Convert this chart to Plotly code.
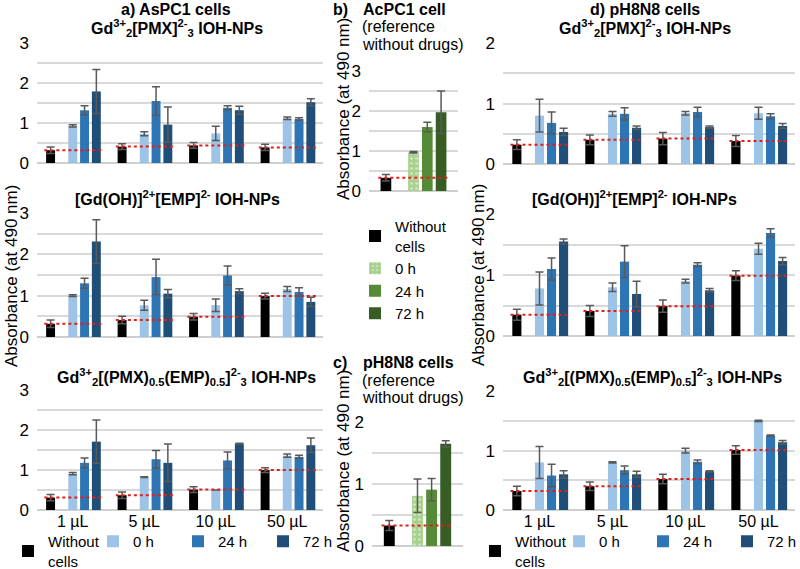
import plotly.graph_objects as go

W, H = 800, 569

doses = ["1 µL", "5 µL", "10 µL", "50 µL"]
single = [""]
series = ["Without<br>cells", "0 h", "24 h", "72 h"]

# ---- a) AsPC1 cells ----
# Gd3+2[PMX]2-3 IOH-NPs
a1_blank = [0.32, 0.41, 0.44, 0.39]
a1_0h = [0.93, 0.73, 0.74, 1.12]
a1_24h = [1.32, 1.55, 1.38, 1.10]
a1_72h = [1.79, 0.96, 1.32, 1.52]
a1_blank_err = [0.08, 0.07, 0.07, 0.08]
a1_0h_err = [0.03, 0.05, 0.18, 0.03]
a1_24h_err = [0.11, 0.36, 0.05, 0.03]
a1_72h_err = [0.55, 0.44, 0.10, 0.09]

# [Gd(OH)]2+[EMP]2- IOH-NPs
a2_blank = [0.32, 0.41, 0.49, 0.99]
a2_0h = [1.00, 0.77, 0.77, 1.16]
a2_24h = [1.30, 1.45, 1.49, 1.09]
a2_72h = [2.31, 1.05, 1.11, 0.85]
a2_blank_err = [0.09, 0.09, 0.08, 0.07]
a2_0h_err = [0.02, 0.12, 0.15, 0.06]
a2_24h_err = [0.12, 0.43, 0.23, 0.10]
a2_72h_err = [0.53, 0.10, 0.06, 0.11]

# Gd3+2[(PMX)0.5(EMP)0.5]2-3 IOH-NPs
a3_blank = [0.31, 0.37, 0.51, 1.00]
a3_0h = [0.91, 0.82, 0.50, 1.36]
a3_24h = [1.18, 1.27, 1.24, 1.33]
a3_72h = [1.71, 1.18, 1.66, 1.62]
a3_blank_err = [0.08, 0.08, 0.07, 0.06]
a3_0h_err = [0.03, 0.01, 0.0, 0.04]
a3_24h_err = [0.12, 0.22, 0.21, 0.04]
a3_72h_err = [0.54, 0.47, 0.01, 0.18]

# ---- b) AcPC1 cell (reference without drugs) ----
b_blank = [0.33]
b_0h = [0.97]
b_24h = [1.60]
b_72h = [1.97]
b_blank_err = [0.08]
b_0h_err = [0.02]
b_24h_err = [0.12]
b_72h_err = [0.53]

# ---- c) pH8N8 cells (reference without drugs) ----
c_blank = [0.33]
c_0h = [0.81]
c_24h = [0.91]
c_72h = [1.65]
c_blank_err = [0.08]
c_0h_err = [0.27]
c_24h_err = [0.18]
c_72h_err = [0.05]

# ---- d) pH8N8 cells ----
d1_blank = [0.32, 0.40, 0.42, 0.38]
d1_0h = [0.80, 0.83, 0.84, 0.84]
d1_24h = [0.68, 0.83, 0.86, 0.79]
d1_72h = [0.53, 0.60, 0.61, 0.63]
d1_blank_err = [0.08, 0.08, 0.10, 0.09]
d1_0h_err = [0.27, 0.04, 0.03, 0.10]
d1_24h_err = [0.18, 0.10, 0.08, 0.04]
d1_72h_err = [0.06, 0.03, 0.02, 0.04]

d2_blank = [0.35, 0.41, 0.49, 0.99]
d2_0h = [0.78, 0.80, 0.90, 1.43]
d2_24h = [1.10, 1.22, 1.17, 1.69]
d2_72h = [1.55, 0.69, 0.75, 1.23]
d2_blank_err = [0.09, 0.09, 0.10, 0.08]
d2_0h_err = [0.27, 0.07, 0.03, 0.09]
d2_24h_err = [0.18, 0.26, 0.03, 0.07]
d2_72h_err = [0.04, 0.21, 0.03, 0.06]

d3_blank = [0.32, 0.40, 0.52, 1.01]
d3_0h = [0.80, 0.80, 1.00, 1.50]
d3_24h = [0.58, 0.67, 0.81, 1.25]
d3_72h = [0.60, 0.60, 0.65, 1.14]
d3_blank_err = [0.08, 0.07, 0.08, 0.07]
d3_0h_err = [0.27, 0.01, 0.04, 0.01]
d3_24h_err = [0.19, 0.07, 0.03, 0.01]
d3_72h_err = [0.06, 0.05, 0.01, 0.03]

# ---------------- styling ----------------
FONT = "Arial, 'Liberation Sans', sans-serif"
BLUES = ["#000000", "#9DC3E6", "#2E75B6", "#1F4E79"]
GREENS = ["#000000", "#A9D18E", "#558A36", "#385D24"]
GRID = "#D9D9D9"
ERR = "#595959"
RED = "#E0201B"
OFF_WIDE = [-0.31, 0.0, 0.165, 0.33]
OFF_NARROW = [-0.31, 0.0, 0.155, 0.31]

fig = go.Figure()


def add_panel(n, cats, vals, errs, colors, offsets, width, legend=None, dotted=False):
    xa, ya = f"x{n}", f"y{n}"
    idx = list(range(len(cats)))
    for j in range(4):
        marker = dict(color=colors[j], line=dict(width=0))
        if dotted and j == 1:
            marker["pattern"] = dict(shape=".", fgcolor="white", size=5, solidity=0.2)
        fig.add_trace(go.Bar(
            x=[i + offsets[j] for i in idx], y=vals[j], width=width,
            marker=marker, name=series[j],
            error_y=dict(type="data", array=errs[j], color=ERR, thickness=1.5, width=4),
            xaxis=xa, yaxis=ya,
            showlegend=legend is not None, legend=legend if legend else "legend",
        ))
    lx, ly = [], []
    for i in idx:
        lx += [i + offsets[0] - width / 2 - 0.025, i + offsets[-1] + width / 2 + 0.025, None]
        ly += [vals[0][i], vals[0][i], None]
    fig.add_trace(go.Scatter(x=lx, y=ly, mode="lines", xaxis=xa, yaxis=ya,
                             line=dict(color=RED, width=2, dash="dot"),
                             showlegend=False, hoverinfo="skip"))


add_panel(1, doses, [a1_blank, a1_0h, a1_24h, a1_72h],
          [a1_blank_err, a1_0h_err, a1_24h_err, a1_72h_err], BLUES, OFF_WIDE, 0.125)
add_panel(2, doses, [a2_blank, a2_0h, a2_24h, a2_72h],
          [a2_blank_err, a2_0h_err, a2_24h_err, a2_72h_err], BLUES, OFF_WIDE, 0.125)
add_panel(3, doses, [a3_blank, a3_0h, a3_24h, a3_72h],
          [a3_blank_err, a3_0h_err, a3_24h_err, a3_72h_err], BLUES, OFF_WIDE, 0.125, legend="legend")
add_panel(4, single, [b_blank, b_0h, b_24h, b_72h],
          [b_blank_err, b_0h_err, b_24h_err, b_72h_err], GREENS, OFF_NARROW, 0.12, legend="legend3", dotted=True)
add_panel(5, single, [c_blank, c_0h, c_24h, c_72h],
          [c_blank_err, c_0h_err, c_24h_err, c_72h_err], GREENS, OFF_NARROW, 0.12, dotted=True)
add_panel(6, doses, [d1_blank, d1_0h, d1_24h, d1_72h],
          [d1_blank_err, d1_0h_err, d1_24h_err, d1_72h_err], BLUES, OFF_WIDE, 0.125)
add_panel(7, doses, [d2_blank, d2_0h, d2_24h, d2_72h],
          [d2_blank_err, d2_0h_err, d2_24h_err, d2_72h_err], BLUES, OFF_WIDE, 0.125)
add_panel(8, doses, [d3_blank, d3_0h, d3_24h, d3_72h],
          [d3_blank_err, d3_0h_err, d3_24h_err, d3_72h_err], BLUES, OFF_WIDE, 0.125, legend="legend2")

# axis boxes in pixels: (n, x-left, x-right, y-top, y-bottom, ymax, categories, show x labels)
boxes = [
    (1, 37, 323, 43, 163, 3, doses, False),
    (2, 37, 323, 213, 337, 3, doses, False),
    (3, 37, 323, 390, 510, 3, doses, True),
    (4, 369, 458, 71, 191, 3, single, False),
    (5, 372, 463, 422, 546, 2, single, False),
    (6, 503, 795, 43, 164, 2, doses, False),
    (7, 503, 795, 214, 336, 2, doses, False),
    (8, 503, 795, 391, 510, 2, doses, True),
]

layout = dict(
    width=W, height=H, margin=dict(l=0, r=0, t=0, b=0, autoexpand=False),
    paper_bgcolor="white", plot_bgcolor="white",
    font=dict(family=FONT, size=16, color="#000000"),
    barmode="overlay", showlegend=True,
)
for n, xl, xr, yt, yb, ymax, cats, showx in boxes:
    layout[f"xaxis{n}"] = dict(
        domain=[xl / W, xr / W], anchor=f"y{n}", range=[-0.5, len(cats) - 0.5],
        tickvals=list(range(len(cats))), ticktext=cats, showticklabels=showx,
        showgrid=False, zeroline=False, showline=False, ticks="", fixedrange=True,
        tickfont=dict(size=16), automargin=False,
    )
    layout[f"yaxis{n}"] = dict(
        domain=[1 - yb / H, 1 - yt / H], anchor=f"x{n}", range=[0, ymax + 0.002],
        tickmode="linear", tick0=0, dtick=1,
        showgrid=True, gridcolor=GRID, gridwidth=1.5,
        minor=dict(tickmode="linear", tick0=0, dtick=0.5, showgrid=True,
                   gridcolor=GRID, gridwidth=1.5, ticks=""),
        zeroline=True, zerolinecolor="#CFCFCF", zerolinewidth=1.5,
        showline=False, ticks="", ticklabelstandoff=7, fixedrange=True,
        tickfont=dict(size=17), automargin=False,
    )

LEG = dict(bgcolor="rgba(0,0,0,0)", font=dict(size=15), valign="middle",
           traceorder="normal", itemwidth=30)
layout["legend"] = dict(orientation="h", x=8 / W, y=1 - 525 / H, xanchor="left", yanchor="top",
                        entrywidth=40, entrywidthmode="pixels", **LEG)
layout["legend2"] = dict(orientation="h", x=475 / W, y=1 - 525 / H, xanchor="left", yanchor="top",
                         entrywidth=39, entrywidthmode="pixels", **LEG)
layout["legend3"] = dict(orientation="v", x=355 / W, y=1 - 210 / H, xanchor="left", yanchor="top",
                         **LEG)

fig.update_layout(**layout)


def ann(text, x, y, xanchor="center", size=16, angle=0, yanchor="middle"):
    fig.add_annotation(text=text, x=x / W, y=1 - y / H, xref="paper", yref="paper",
                       xanchor=xanchor, yanchor=yanchor, showarrow=False,
                       font=dict(size=size, family=FONT, color="#000000"), textangle=angle)


# panel titles
ann("<b>a) AsPC1 cells</b>", 176, 10)
ann("<b>Gd<sup>3+</sup><sub>2</sub>[PMX]<sup>2-</sup><sub>3</sub> IOH-NPs</b>", 177, 15, yanchor="top")
ann("<b>[Gd(OH)]<sup>2+</sup>[EMP]<sup>2-</sup> IOH-NPs</b>", 177, 198)
ann("<b>Gd<sup>3+</sup><sub>2</sub>[(PMX)<sub>0.5</sub>(EMP)<sub>0.5</sub>]<sup>2-</sup><sub>3</sub> IOH-NPs</b>", 186, 377)

ann("<b>b)</b>", 331, 10, "left")
ann("<b>AcPC1 cell</b>", 361, 10, "left")
ann("(reference", 360, 27, "left")
ann("without drugs)", 360, 45, "left")

ann("<b>c)</b>", 331, 363, "left")
ann("<b>pH8N8 cells</b>", 361, 363, "left")
ann("(reference", 360, 380, "left")
ann("without drugs)", 360, 398, "left")

ann("<b>d) pH8N8 cells</b>", 645, 10)
ann("<b>Gd<sup>3+</sup><sub>2</sub>[PMX]<sup>2-</sup><sub>3</sub> IOH-NPs</b>", 645, 15, yanchor="top")
ann("<b>[Gd(OH)]<sup>2+</sup>[EMP]<sup>2-</sup> IOH-NPs</b>", 634, 198)
ann("<b>Gd<sup>3+</sup><sub>2</sub>[(PMX)<sub>0.5</sub>(EMP)<sub>0.5</sub>]<sup>2-</sup><sub>3</sub> IOH-NPs</b>", 652, 377)

# y-axis titles
YT = "Absorbance (at 490 nm)"
ann(YT, 11, 276, size=17, angle=-90)
ann(YT, 343, 109, size=17, angle=-90)
ann(YT, 343, 461, size=17, angle=-90)
ann(YT, 478, 275, size=17, angle=-90)

fig.write_html("out.html", config={"displayModeBar": False},
               post_script="document.body.style.margin='0px';")
